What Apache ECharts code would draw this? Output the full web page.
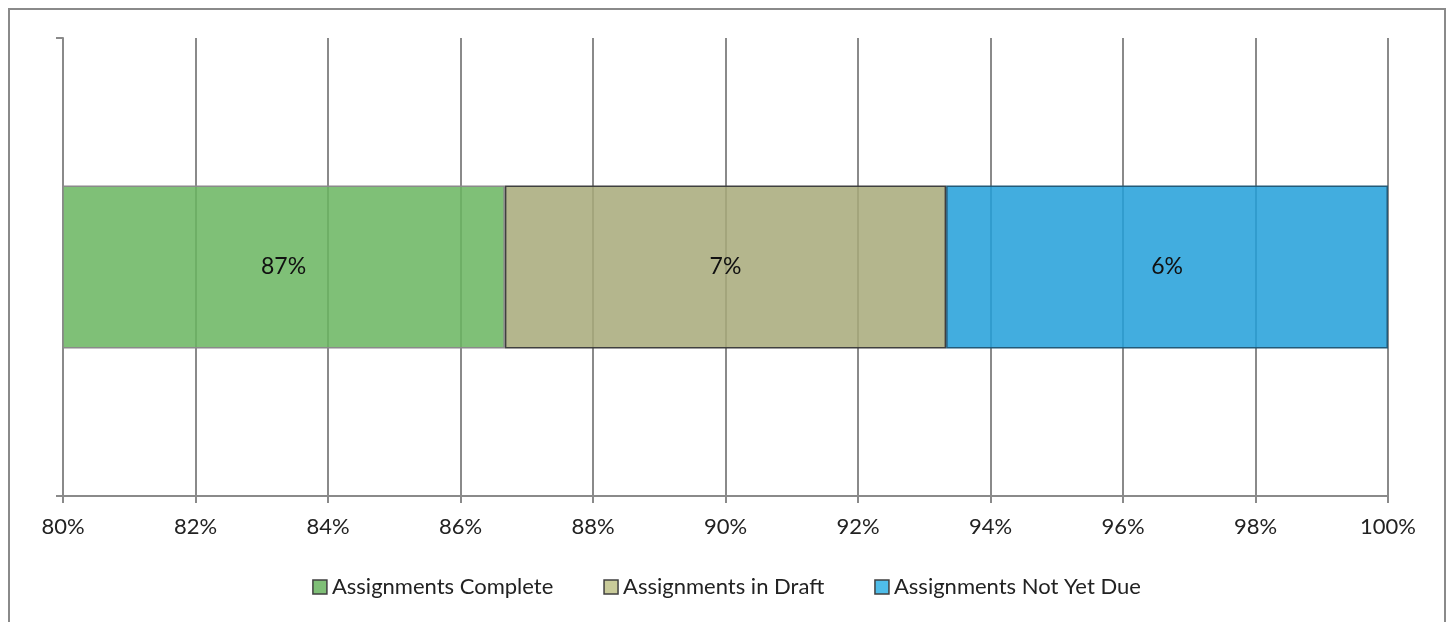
<!DOCTYPE html>
<html>
<head>
<meta charset="utf-8">
<script src="https://cdn.jsdelivr.net/npm/echarts@6/dist/echarts.min.js"></script>
<style>
  html, body { margin: 0; padding: 0; background: #fff; }
  #chart { width: 1453px; height: 622px; }
</style>
</head>
<body>
<div id="chart"></div>
<script>
// Assignment status, stacked 100% bar (axis shows 80%..100%)
const seriesNames = ['Assignments Complete', 'Assignments in Draft', 'Assignments Not Yet Due']
const seriesValues = [86.67, 6.66, 6.67]
const seriesLabels = ['87%', '7%', '6%']
const categories = ['']

// fill colours (with some transparency so the grid shows through, like the original)
const fills = ['rgba(106,182,97,0.86)', 'rgba(168,170,122,0.86)', 'rgba(35,160,218,0.86)']
const borders = ['#8a8a8a', '#3f3f3f', '#235a78']
const legendIcons = ['#7fbf77', '#c9cb9a', '#4fbde9']

const font = 'Lato, "Open Sans", sans-serif'

const series = seriesNames.map((name, i) => ({
  type: 'bar',
  name: name,
  stack: 'total',
  barWidth: 163,
  clip: true,
  data: [seriesValues[i]],
  itemStyle: {
    color: fills[i],
    borderColor: borders[i],
    borderWidth: 1.5,
  },
  label: {
    show: true,
    position: 'inside',
    formatter: () => seriesLabels[i],
    color: '#111',
    fontFamily: font,
    fontSize: 23,
  },
  emphasis: { disabled: true },
}))

const chart = echarts.init(document.getElementById('chart'))
chart.setOption({
  animation: false,
  textStyle: { fontFamily: font },
  graphic: [{
    type: 'rect',
    shape: { x: 9, y: 9, width: 1436, height: 640 },
    style: { fill: 'none', stroke: '#8a8a8a', lineWidth: 2 },
    z: -10,
  }],
  grid: { left: 63, right: 65, top: 38, bottom: 126 },
  legend: {
    bottom: 19,
    left: 'center',
    icon: 'rect',
    itemWidth: 14,
    itemHeight: 14,
    itemGap: 50,
    textStyle: { fontFamily: font, fontSize: 22, color: '#222' },
    data: seriesNames.map((n, i) => ({
      name: n,
      itemStyle: { color: legendIcons[i], borderColor: '#404040', borderWidth: 1.5 },
    })),
  },
  xAxis: {
    type: 'value',
    min: 80,
    max: 100,
    interval: 2,
    axisLine: { show: true, lineStyle: { color: '#8a8a8a', width: 2 } },
    axisTick: { show: true, length: 7, lineStyle: { color: '#8a8a8a', width: 2 } },
    axisLabel: { formatter: '{value}%', color: '#222', fontSize: 22, margin: 20, fontFamily: font },
    splitLine: { show: true, lineStyle: { color: '#8a8a8a', width: 2 } },
  },
  yAxis: {
    type: 'category',
    data: categories,
    axisLine: { show: true, lineStyle: { color: '#8a8a8a', width: 2 } },
    axisTick: { show: true, length: 7, lineStyle: { color: '#8a8a8a', width: 2 } },
    axisLabel: { show: false },
  },
  series: series,
})
</script>
</body>
</html>
